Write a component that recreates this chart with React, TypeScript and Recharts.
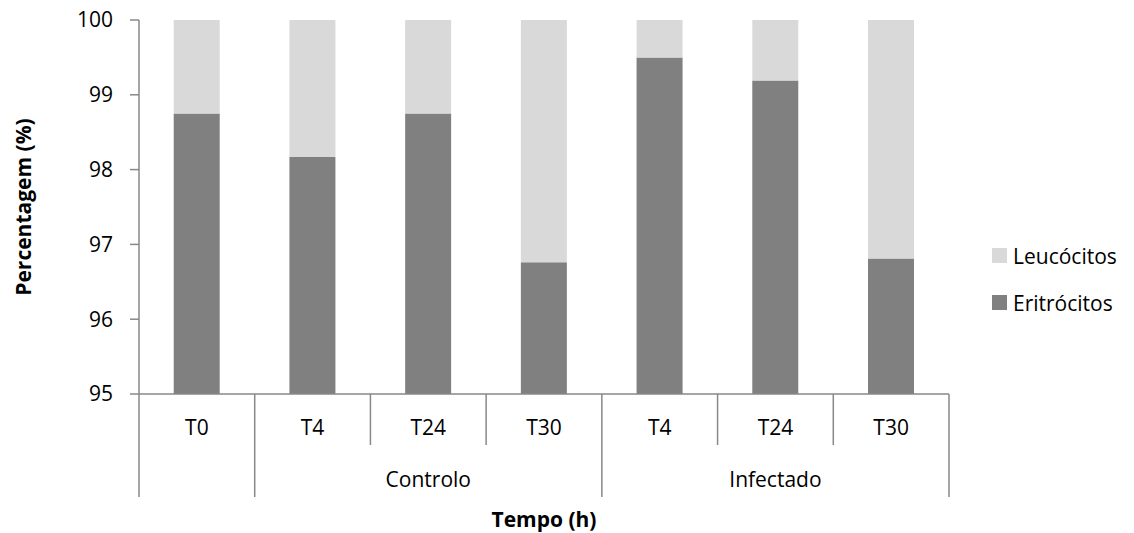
import React from "react";
import {
  BarChart,
  Bar,
  XAxis,
  YAxis,
  Legend,
} from "recharts";

const CATEGORIES = ["T0", "T4", "T24", "T30", "T4", "T24", "T30"];
const GROUPS = ["", "Controlo", "Controlo", "Controlo", "Infectado", "Infectado", "Infectado"];
const ERITROCITOS = [98.75, 98.17, 98.75, 96.76, 99.5, 99.19, 96.81];
const LEUCOCITOS = [1.25, 1.83, 1.25, 3.24, 0.5, 0.81, 3.19];
const Y_TICKS = [95, 96, 97, 98, 99, 100];

const DARK = "#808080";
const LIGHT = "#d9d9d9";
const AXIS = "#888888";
const FONT = "'Open Sans', sans-serif";

const WIDTH = 1134;
const HEIGHT = 533;
const MARGIN = { top: 20, right: 185, bottom: 10, left: 79 };
const Y_WIDTH = 60;
const PLOT_LEFT = MARGIN.left + Y_WIDTH;
const PLOT_RIGHT = WIDTH - MARGIN.right;
const BAND = (PLOT_RIGHT - PLOT_LEFT) / CATEGORIES.length;

const data = CATEGORIES.map((c, i) => ({
  idx: i,
  Eritrócitos: ERITROCITOS[i],
  Leucócitos: LEUCOCITOS[i],
}));

// two-level category axis: time point on top, group name underneath
function GroupedTick(props: any) {
  const { x, y, payload } = props;
  const i = Number(payload.value);
  const left = x - BAND / 2;
  const groupStart = i === 0 || GROUPS[i] !== GROUPS[i - 1];
  const last = i === CATEGORIES.length - 1;

  let groupLabel = null;
  if (groupStart && GROUPS[i]) {
    let end = i;
    while (end + 1 < GROUPS.length && GROUPS[end + 1] === GROUPS[i]) end++;
    const cx = x + ((end - i) / 2) * BAND;
    groupLabel = (
      <text x={cx} y={y + 93} textAnchor="middle" fill="#000" fontSize={21} fontFamily={FONT}>
        {GROUPS[i]}
      </text>
    );
  }

  return (
    <g>
      <line x1={left} x2={left} y1={y} y2={y + (groupStart ? 103 : 51)} stroke={AXIS} strokeWidth={1.5} />
      {last && (
        <line x1={x + BAND / 2} x2={x + BAND / 2} y1={y} y2={y + 103} stroke={AXIS} strokeWidth={1.5} />
      )}
      <text x={x} y={y + 41} textAnchor="middle" fill="#000" fontSize={21} fontFamily={FONT}>
        {CATEGORIES[i]}
      </text>
      {groupLabel}
    </g>
  );
}

function LegendBox() {
  const items = [
    { name: "Leucócitos", color: LIGHT },
    { name: "Eritrócitos", color: DARK },
  ];
  return (
    <div style={{ fontFamily: FONT, fontSize: 21, color: "#000" }}>
      {items.map((it) => (
        <div key={it.name} style={{ display: "flex", alignItems: "center", height: 47 }}>
          <span style={{ display: "inline-block", width: 15, height: 15, background: it.color, marginRight: 6 }} />
          <span>{it.name}</span>
        </div>
      ))}
    </div>
  );
}

export default function App() {
  return (
    <div style={{ position: "absolute", left: 0, top: 0, background: "#fff", width: WIDTH, height: HEIGHT }}>
      <BarChart width={WIDTH} height={HEIGHT} data={data} margin={MARGIN} barCategoryGap="30%">
        <XAxis
          dataKey="idx"
          height={129}
          axisLine={{ stroke: AXIS, strokeWidth: 1.5 }}
          tickLine={false}
          tickSize={0}
          tickMargin={0}
          interval={0}
          tick={<GroupedTick />}
          label={{
            content: () => (
              <text x={(PLOT_LEFT + PLOT_RIGHT) / 2} y={527} textAnchor="middle" fontSize={21} fontWeight="bold" fontFamily={FONT} fill="#000">
                Tempo (h)
              </text>
            ),
          }}
        />
        <YAxis
          width={Y_WIDTH}
          domain={[95, 100]}
          ticks={Y_TICKS}
          allowDataOverflow
          axisLine={{ stroke: AXIS, strokeWidth: 1.5 }}
          tickLine={{ stroke: AXIS, strokeWidth: 1.5 }}
          tickSize={9}
          tickMargin={17}
          tick={{ fill: "#000", fontSize: 21, fontFamily: FONT }}
          label={{
            content: () => (
              <text x={31} y={207} transform="rotate(-90, 31, 207)" textAnchor="middle" fontSize={21} fontWeight="bold" fontFamily={FONT} fill="#000">
                Percentagem (%)
              </text>
            ),
          }}
        />
        <Legend
          layout="horizontal"
          verticalAlign="middle"
          align="center"
          content={<LegendBox />}
          wrapperStyle={{ position: "absolute", left: 992, top: 232, width: 142 }}
        />
        <Bar dataKey="Eritrócitos" stackId="a" fill={DARK} isAnimationActive={false} />
        <Bar dataKey="Leucócitos" stackId="a" fill={LIGHT} isAnimationActive={false} />
      </BarChart>
    </div>
  );
}
